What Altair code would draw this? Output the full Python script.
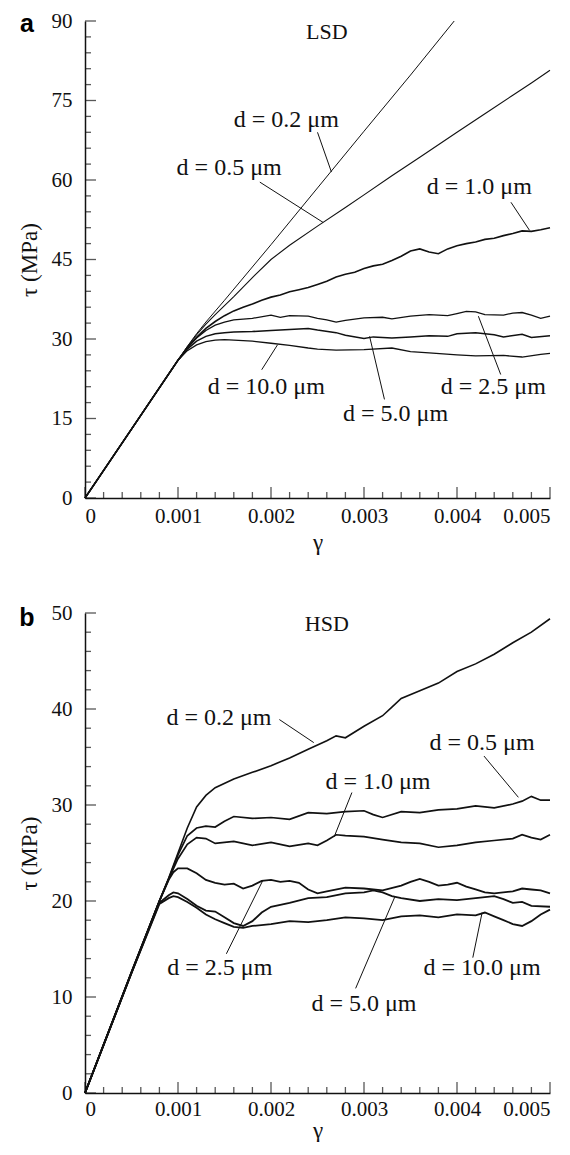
import altair as alt
import pandas as pd

# ---------------- Panel a : LSD ----------------
A_G_02 = [0, 0.0005, 0.001, 0.0011, 0.0012, 0.0013, 0.0015, 0.002, 0.0025, 0.003, 0.0035, 0.00397]
A_T_02 = [0, 13, 26, 28.6, 31.0, 33.2, 37.3, 47.8, 58.5, 69.2, 79.8, 90]

A_G_05 = [0, 0.0005, 0.001, 0.0011, 0.0012, 0.0013, 0.0014, 0.0015, 0.0016, 0.0018, 0.002, 0.0022,
          0.0025, 0.0028, 0.003, 0.0033, 0.0036, 0.004, 0.0043, 0.0046, 0.0048, 0.005]
A_T_05 = [0, 13, 26, 28.5, 30.8, 32.8, 34.6, 36.3, 38, 41.6, 45.0, 47.7,
          51.3, 54.8, 57.2, 60.8, 64.3, 69, 72.5, 76, 78.3, 80.7]

A_G_10 = [0, 0.0005, 0.001, 0.0011, 0.0012, 0.0013, 0.0014, 0.0015, 0.0016, 0.0017, 0.0018, 0.0019,
          0.002, 0.0021, 0.0022, 0.0023, 0.0024, 0.0025, 0.0026, 0.0027, 0.0028, 0.0029, 0.003,
          0.0031, 0.0032, 0.0033, 0.0034, 0.0035, 0.0036, 0.0037, 0.0038, 0.0039, 0.004, 0.0041,
          0.0042, 0.0043, 0.0044, 0.0045, 0.0046, 0.0047, 0.0048, 0.0049, 0.005]
A_T_10 = [0, 13, 26, 28.4, 30.3, 32.0, 33.3, 34.4, 35.3, 36.0, 36.6, 37.3,
          37.9, 38.3, 38.9, 39.3, 39.7, 40.3, 40.9, 41.7, 42.2, 42.6, 43.3,
          43.8, 44.1, 44.8, 45.6, 46.6, 47.0, 46.4, 46.1, 47.0, 47.6, 48.0,
          48.3, 48.8, 49.0, 49.5, 49.9, 50.4, 50.3, 50.6, 51.0]

A_G_25 = [0, 0.0005, 0.001, 0.0011, 0.0012, 0.0013, 0.0014, 0.0015, 0.0016, 0.0018, 0.002, 0.0021,
          0.0022, 0.0024, 0.0025, 0.0026, 0.0027, 0.0028, 0.003, 0.0032, 0.0033, 0.0035, 0.0037,
          0.0039, 0.004, 0.0041, 0.0042, 0.0043, 0.0045, 0.0046, 0.0047, 0.0048, 0.0049, 0.005]
A_T_25 = [0, 13, 26, 28.3, 30.2, 31.6, 32.6, 33.2, 33.6, 33.9, 34.5, 34.1,
          34.4, 34.3, 33.9, 33.6, 33.2, 33.5, 34.0, 34.1, 33.8, 34.3, 34.6,
          34.4, 34.8, 35.2, 35.1, 34.6, 34.5, 34.9, 35.0, 34.5, 33.9, 34.3]

A_G_50 = [0, 0.0005, 0.001, 0.0011, 0.0012, 0.0013, 0.0014, 0.0015, 0.0016, 0.0018, 0.002, 0.0022,
          0.0024, 0.0025, 0.0027, 0.0028, 0.003, 0.0031, 0.0033, 0.0035, 0.0037, 0.0039, 0.004,
          0.0042, 0.0044, 0.0045, 0.0047, 0.0048, 0.005]
A_T_50 = [0, 13, 26, 28.1, 29.6, 30.5, 31.0, 31.2, 31.3, 31.4, 31.6, 31.8,
          32.0, 31.7, 31.2, 30.7, 30.1, 30.4, 30.2, 30.4, 30.6, 30.5, 31.0,
          31.2, 30.8, 30.4, 30.9, 30.3, 30.6]

A_G_100 = [0, 0.0005, 0.001, 0.0011, 0.0012, 0.0013, 0.0014, 0.0015, 0.0016, 0.0018, 0.002, 0.0022,
           0.0024, 0.0025, 0.0027, 0.003, 0.0033, 0.0035, 0.0037, 0.004, 0.0042, 0.0045, 0.0047,
           0.0049, 0.005]
A_T_100 = [0, 13, 26, 27.8, 28.9, 29.5, 29.8, 29.9, 29.8, 29.6, 29.2, 28.8,
           28.3, 28.1, 27.9, 28.0, 28.3, 27.6, 27.4, 27.0, 26.8, 26.9, 26.6,
           27.1, 27.3]

A_LABELS = ["d = 0.2 μm", "d = 0.5 μm", "d = 1.0 μm", "d = 10.0 μm", "d = 5.0 μm", "d = 2.5 μm"]
A_LABEL_G = [0.002165, 0.00155, 0.00424, 0.00195, 0.00334, 0.00439]
A_LABEL_T = [71.4, 62.2, 58.6, 21.0, 15.8, 20.9]
A_LEAD_G1 = [0.0025, 0.00188, 0.00458, 0.0019, 0.00322, 0.00447]
A_LEAD_T1 = [69.0, 59.6, 55.8, 24.2, 18.6, 23.3]
A_LEAD_G2 = [0.00265, 0.00256, 0.00478, 0.00207, 0.00306, 0.00423]
A_LEAD_T2 = [61.5, 52.0, 50.5, 28.9, 30.5, 34.3]

# ---------------- Panel b : HSD ----------------
B_G_02 = [0, 0.0005, 0.0008, 0.0009, 0.001, 0.0011, 0.0012, 0.0013, 0.0014, 0.0016, 0.0018, 0.002,
          0.0022, 0.0024, 0.0026, 0.0027, 0.0028, 0.003, 0.0032, 0.0033, 0.0034, 0.0036, 0.0038,
          0.004, 0.0042, 0.0044, 0.0046, 0.0048, 0.005]
B_T_02 = [0, 12.6, 20.0, 22.4, 25.0, 27.6, 29.8, 31.0, 31.8, 32.7, 33.4, 34.1,
          34.9, 35.8, 36.7, 37.2, 37.0, 38.2, 39.3, 40.2, 41.1, 41.9, 42.7,
          43.9, 44.7, 45.7, 46.9, 48.0, 49.4]

B_G_05 = [0, 0.0005, 0.0008, 0.0009, 0.001, 0.0011, 0.0012, 0.0013, 0.0014, 0.0015, 0.0016, 0.0018,
          0.002, 0.0022, 0.0024, 0.0026, 0.0028, 0.003, 0.0031, 0.0032, 0.0034, 0.0036, 0.0038,
          0.004, 0.0042, 0.0044, 0.0046, 0.0047, 0.0048, 0.0049, 0.005]
B_T_05 = [0, 12.6, 20.0, 22.3, 24.8, 26.8, 27.6, 27.8, 27.7, 28.3, 28.8, 28.6,
          28.7, 28.5, 29.2, 29.1, 29.3, 29.4, 29.0, 28.7, 29.3, 29.2, 29.5,
          29.6, 29.9, 29.7, 30.1, 30.4, 30.9, 30.5, 30.5]

B_G_10 = [0, 0.0005, 0.0008, 0.0009, 0.001, 0.0011, 0.0012, 0.0013, 0.0014, 0.0016, 0.0018, 0.002,
          0.0022, 0.0024, 0.0025, 0.0026, 0.0027, 0.0028, 0.003, 0.0032, 0.0034, 0.0036, 0.0038,
          0.004, 0.0042, 0.0044, 0.0046, 0.0047, 0.0048, 0.0049, 0.005]
B_T_10 = [0, 12.6, 20.0, 22.3, 24.4, 25.9, 26.6, 26.5, 26.0, 26.2, 25.8, 26.1,
          25.7, 26.0, 25.8, 26.3, 26.9, 26.8, 26.7, 26.4, 26.1, 26.0, 25.6,
          25.8, 26.1, 26.3, 26.5, 26.9, 26.6, 26.4, 26.9]

B_G_25 = [0, 0.0005, 0.0008, 0.0009, 0.00095, 0.001, 0.0011, 0.0012, 0.0013, 0.0014, 0.0015, 0.0016,
          0.0017, 0.0018, 0.0019, 0.002, 0.0021, 0.0022, 0.0023, 0.0024, 0.0025, 0.0026, 0.0028,
          0.003, 0.0032, 0.0034, 0.0035, 0.0036, 0.0037, 0.0038, 0.0039, 0.004, 0.0041, 0.0042,
          0.0043, 0.0044, 0.0046, 0.0047, 0.0048, 0.0049, 0.005]
B_T_25 = [0, 12.5, 20.0, 22.2, 23.0, 23.4, 23.4, 22.9, 22.2, 21.9, 21.7, 21.8,
          21.3, 21.6, 22.1, 22.2, 22.0, 22.1, 21.9, 21.2, 20.8, 21.0, 21.4,
          21.3, 21.1, 21.6, 22.0, 22.3, 22.0, 21.6, 21.7, 21.9, 21.5, 21.2,
          20.9, 20.8, 21.0, 21.3, 21.2, 21.1, 20.8]

B_G_50 = [0, 0.0005, 0.0008, 0.0009, 0.00095, 0.001, 0.0011, 0.0012, 0.0013, 0.0014, 0.0015, 0.0016,
          0.0017, 0.0018, 0.0019, 0.002, 0.0022, 0.0024, 0.0026, 0.0028, 0.003, 0.0031, 0.0032,
          0.0033, 0.0034, 0.0036, 0.0038, 0.004, 0.0042, 0.0044, 0.0045, 0.0046, 0.0047, 0.0048,
          0.005]
B_T_50 = [0, 12.5, 19.8, 20.6, 20.9, 20.8, 20.2, 19.5, 19.0, 18.9, 18.3, 17.7,
          17.4, 17.9, 18.8, 19.4, 19.8, 20.3, 20.4, 20.8, 20.9, 21.1, 20.9,
          20.5, 20.3, 20.0, 20.2, 20.1, 20.3, 20.5, 20.2, 19.8, 19.9, 19.5,
          19.4]

B_G_100 = [0, 0.0005, 0.0008, 0.0009, 0.00095, 0.001, 0.0011, 0.0012, 0.0013, 0.0014, 0.0015, 0.0016,
           0.0017, 0.0018, 0.002, 0.0022, 0.0024, 0.0026, 0.0028, 0.003, 0.0032, 0.0034, 0.0036,
           0.0038, 0.004, 0.0042, 0.0043, 0.0044, 0.0045, 0.0046, 0.0047, 0.0048, 0.0049, 0.005]
B_T_100 = [0, 12.5, 19.7, 20.3, 20.5, 20.4, 19.9, 19.3, 18.6, 18.1, 17.7, 17.3,
           17.2, 17.4, 17.6, 17.9, 17.8, 18.0, 18.3, 18.2, 18.0, 18.4, 18.5,
           18.3, 18.6, 18.5, 18.8, 18.4, 18.0, 17.6, 17.4, 17.9, 18.6, 19.1]

B_LABELS = ["d = 0.2 μm", "d = 0.5 μm", "d = 1.0 μm", "d = 2.5 μm", "d = 5.0 μm", "d = 10.0 μm"]
B_LABEL_G = [0.00144, 0.00427, 0.00315, 0.00145, 0.003, 0.00427]
B_LABEL_T = [39.1, 36.5, 32.4, 13.0, 9.3, 13.0]
B_LEAD_G1 = [0.00209, 0.00429, 0.00287, 0.00152, 0.00291, 0.00417]
B_LEAD_T1 = [38.9, 35.1, 31.3, 14.5, 10.9, 14.1]
B_LEAD_G2 = [0.00246, 0.00466, 0.00268, 0.00191, 0.00333, 0.00427]
B_LEAD_T2 = [36.5, 30.8, 26.7, 22.1, 20.4, 18.8]

# axis ticks
X_MAJOR = [0, 0.001, 0.002, 0.003, 0.004, 0.005]
X_MINOR = [round(i * 0.0002, 4) for i in range(26) if i % 5 != 0]
A_Y_MAJOR = [0, 15, 30, 45, 60, 75, 90]
A_Y_MINOR = [v for v in range(0, 91, 3) if v % 15 != 0]
B_Y_MAJOR = [0, 10, 20, 30, 40, 50]
B_Y_MINOR = [v for v in range(0, 51, 2) if v % 10 != 0]

# styles (line widths per curve)
A_WIDTHS = {"0.2": 1.0, "0.5": 1.1, "1.0": 1.6, "2.5": 1.3, "5.0": 1.5, "10.0": 1.3}
B_WIDTHS = {"0.2": 1.6, "0.5": 1.7, "1.0": 1.7, "2.5": 1.8, "5.0": 1.8, "10.0": 1.8}

W = 465
SERIF = "Liberation Serif"
INK = "#111111"
MAJ, MIN = 11, 6   # inward tick lengths (px)


def series_frame(pairs, widths):
    rows = []
    for name, gs, ts in pairs:
        for i, (g, t) in enumerate(zip(gs, ts)):
            rows.append({"s": name, "i": i, "g": g, "t": t, "w": widths[name]})
    return pd.DataFrame(rows)


def panel(pairs, widths, ymax, ymajor, yminor, labels, lg, lt, g1, t1, g2, t2,
          heading, heading_t, letter, letter_y, xlabpad, xtitlepad, H):
    xs = alt.Scale(domain=[0, 0.005], nice=False)
    ys = alt.Scale(domain=[0, ymax], nice=False)
    df = series_frame(pairs, widths)
    lines = alt.Chart(df).mark_line(color=INK).encode(
        x=alt.X("g:Q", scale=xs,
                axis=alt.Axis(values=X_MAJOR, format=".3~f", title="γ", ticks=False,
                              labelPadding=xlabpad, titlePadding=xtitlepad)),
        y=alt.Y("t:Q", scale=ys,
                axis=alt.Axis(values=ymajor, title="τ (MPa)", ticks=False,
                              labelPadding=13, titlePadding=10)),
        detail="s:N",
        order="i:Q",
        strokeWidth=alt.StrokeWidth("w:Q", scale=None),
    )
    lead_df = pd.DataFrame({"g": g1, "t": t1, "g2": g2, "t2": t2})
    leaders = alt.Chart(lead_df).mark_rule(color=INK, strokeWidth=1).encode(
        x=alt.X("g:Q", scale=xs), y=alt.Y("t:Q", scale=ys),
        x2="g2:Q", y2="t2:Q")
    lab_df = pd.DataFrame({"g": lg, "t": lt, "label": labels})
    texts = alt.Chart(lab_df).mark_text(font=SERIF, fontSize=24, color=INK,
                                        align="center", baseline="middle").encode(
        x=alt.X("g:Q", scale=xs), y=alt.Y("t:Q", scale=ys), text="label:N")
    head = alt.Chart(pd.DataFrame({"g": [0.0026], "t": [heading_t], "label": [heading]})).mark_text(
        font=SERIF, fontSize=22, color=INK, align="center", baseline="middle").encode(
        x=alt.X("g:Q", scale=xs), y=alt.Y("t:Q", scale=ys), text="label:N")
    xmaj = alt.Chart(pd.DataFrame({"g": X_MAJOR})).mark_tick(
        color=INK, thickness=1.3, size=MAJ, orient="vertical").encode(
        x=alt.X("g:Q", scale=xs), y=alt.value(H - MAJ / 2))
    xmin = alt.Chart(pd.DataFrame({"g": X_MINOR})).mark_tick(
        color=INK, thickness=1.3, size=MIN, orient="vertical").encode(
        x=alt.X("g:Q", scale=xs), y=alt.value(H - MIN / 2))
    ymaj = alt.Chart(pd.DataFrame({"t": ymajor})).mark_tick(
        color=INK, thickness=1.3, size=MAJ, orient="horizontal").encode(
        y=alt.Y("t:Q", scale=ys), x=alt.value(MAJ / 2))
    ymin = alt.Chart(pd.DataFrame({"t": yminor})).mark_tick(
        color=INK, thickness=1.3, size=MIN, orient="horizontal").encode(
        y=alt.Y("t:Q", scale=ys), x=alt.value(MIN / 2))
    let = alt.Chart(pd.DataFrame({"label": [letter]})).mark_text(
        font="Liberation Sans", fontWeight="bold", fontSize=25, color="#000000",
        align="center", baseline="alphabetic").encode(
        x=alt.value(-58), y=alt.value(letter_y), text="label:N")
    return alt.layer(lines, leaders, texts, head, xmaj, xmin, ymaj, ymin, let).properties(
        width=W, height=H)


panel_a = panel(
    [("0.2", A_G_02, A_T_02), ("0.5", A_G_05, A_T_05), ("1.0", A_G_10, A_T_10),
     ("2.5", A_G_25, A_T_25), ("5.0", A_G_50, A_T_50), ("10.0", A_G_100, A_T_100)],
    A_WIDTHS, 90, A_Y_MAJOR, A_Y_MINOR, A_LABELS, A_LABEL_G, A_LABEL_T,
    A_LEAD_G1, A_LEAD_T1, A_LEAD_G2, A_LEAD_T2, "LSD", 88.0, "a", 10.5, 7, 5, 477)

panel_b = panel(
    [("0.2", B_G_02, B_T_02), ("0.5", B_G_05, B_T_05), ("1.0", B_G_10, B_T_10),
     ("2.5", B_G_25, B_T_25), ("5.0", B_G_50, B_T_50), ("10.0", B_G_100, B_T_100)],
    B_WIDTHS, 50, B_Y_MAJOR, B_Y_MINOR, B_LABELS, B_LABEL_G, B_LABEL_T,
    B_LEAD_G1, B_LEAD_T1, B_LEAD_G2, B_LEAD_T2, "HSD", 48.9, "b", 13, 5, 0, 480)

chart = alt.vconcat(panel_a, panel_b, spacing=48).properties(
    padding={"left": 10, "right": 5, "top": 2, "bottom": 0}
).configure_view(stroke=None).configure_axis(
    domainColor=INK, domainWidth=1.5, grid=False,
    labelFont=SERIF, labelFontSize=21, labelColor=INK,
    titleFont=SERIF, titleFontSize=23, titleFontWeight="normal", titleColor=INK,
)

chart.save("out.html", embed_options={"renderer": "svg", "actions": False})
